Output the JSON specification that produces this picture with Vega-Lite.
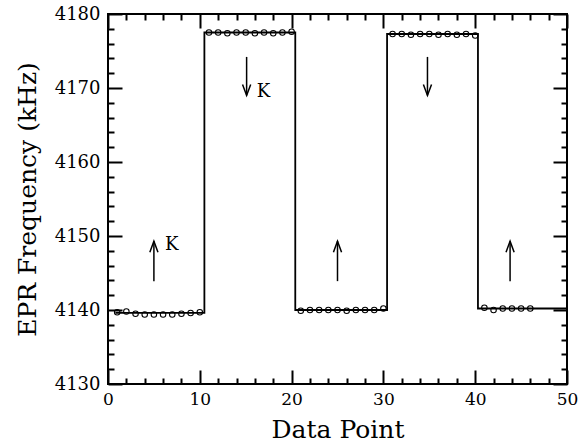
{
  "$schema": "https://vega.github.io/schema/vega-lite/v6.json",
  "width": 459,
  "height": 370,
  "autosize": {"type": "none"},
  "padding": {"left": 108, "top": 14, "right": 13, "bottom": 59},
  "background": "white",
  "config": {
    "view": {"stroke": "black", "strokeWidth": 2},
    "axis": {
      "domain": false,
      "tickColor": "black",
      "tickWidth": 2,
      "ticks": true,
      "grid": false,
      "labelFont": "DejaVu Serif",
      "labelColor": "black",
      "titleFont": "DejaVu Serif",
      "titleFontSize": 25,
      "titleFontWeight": "normal",
      "titleColor": "black"
    }
  },
  "datasets": {
    "fit": [
      {"order": 1, "x": 0.8, "y": 4139.6},
      {"order": 2, "x": 10.5, "y": 4139.6},
      {"order": 3, "x": 10.5, "y": 4177.5},
      {"order": 4, "x": 20.4, "y": 4177.5},
      {"order": 5, "x": 20.4, "y": 4140.0},
      {"order": 6, "x": 30.4, "y": 4140.0},
      {"order": 7, "x": 30.4, "y": 4177.3},
      {"order": 8, "x": 40.3, "y": 4177.3},
      {"order": 9, "x": 40.3, "y": 4140.2},
      {"order": 10, "x": 50, "y": 4140.2}
    ],
    "obs": [
      {"x": 1, "y": 4139.7}, {"x": 2, "y": 4139.8}, {"x": 3, "y": 4139.5}, {"x": 4, "y": 4139.4}, {"x": 5, "y": 4139.4},
      {"x": 6, "y": 4139.4}, {"x": 7, "y": 4139.4}, {"x": 8, "y": 4139.5}, {"x": 9, "y": 4139.6}, {"x": 10, "y": 4139.7},
      {"x": 11, "y": 4177.5}, {"x": 12, "y": 4177.5}, {"x": 13, "y": 4177.4}, {"x": 14, "y": 4177.5}, {"x": 15, "y": 4177.5},
      {"x": 16, "y": 4177.4}, {"x": 17, "y": 4177.5}, {"x": 18, "y": 4177.4}, {"x": 19, "y": 4177.5}, {"x": 20, "y": 4177.6},
      {"x": 21, "y": 4139.9}, {"x": 22, "y": 4140.0}, {"x": 23, "y": 4140.0}, {"x": 24, "y": 4140.0}, {"x": 25, "y": 4140.0},
      {"x": 26, "y": 4139.9}, {"x": 27, "y": 4140.0}, {"x": 28, "y": 4140.0}, {"x": 29, "y": 4140.0}, {"x": 30, "y": 4140.2},
      {"x": 31, "y": 4177.3}, {"x": 32, "y": 4177.3}, {"x": 33, "y": 4177.2}, {"x": 34, "y": 4177.3}, {"x": 35, "y": 4177.3},
      {"x": 36, "y": 4177.2}, {"x": 37, "y": 4177.3}, {"x": 38, "y": 4177.2}, {"x": 39, "y": 4177.3}, {"x": 40, "y": 4177.1},
      {"x": 41, "y": 4140.3}, {"x": 42, "y": 4140.0}, {"x": 43, "y": 4140.2}, {"x": 44, "y": 4140.2}, {"x": 45, "y": 4140.2},
      {"x": 46, "y": 4140.2}
    ],
    "arrows": [
      {"x": 5.0, "tail": 4143.9, "head": 4149.3, "dir": "up"},
      {"x": 15.1, "tail": 4174.2, "head": 4169.0, "dir": "down"},
      {"x": 25.0, "tail": 4143.9, "head": 4149.3, "dir": "up"},
      {"x": 34.8, "tail": 4174.2, "head": 4169.0, "dir": "down"},
      {"x": 43.8, "tail": 4143.9, "head": 4149.3, "dir": "up"}
    ],
    "labels": [
      {"x": 6.2, "y": 4148.8, "text": "K"},
      {"x": 16.2, "y": 4169.4, "text": "K"}
    ]
  },
  "layer": [
    {
      "data": {"name": "fit"},
      "mark": {"type": "line", "color": "black", "strokeWidth": 1.8},
      "encoding": {
        "x": {
          "field": "x", "type": "quantitative",
          "scale": {"domain": [0, 50], "nice": false, "zero": false},
          "axis": {
            "orient": "bottom",
            "title": "Data Point",
            "values": [0, 10, 20, 30, 40, 50],
            "offset": -14,
            "tickSize": 14,
            "labelFontSize": 17,
            "labelPadding": 7,
            "labelFlush": false,
            "labelOverlap": false,
            "titlePadding": 10
          }
        },
        "y": {
          "field": "y", "type": "quantitative",
          "scale": {"domain": [4130, 4180], "nice": false, "zero": false},
          "axis": {
            "orient": "left",
            "title": "EPR Frequency (kHz)",
            "values": [4130, 4140, 4150, 4160, 4170, 4180],
            "offset": -14,
            "tickSize": 14,
            "labelFontSize": 18,
            "labelPadding": 8,
            "labelFlush": false,
            "labelOverlap": false,
            "format": "d",
            "titlePadding": 14
          }
        },
        "order": {"field": "order", "type": "quantitative"}
      }
    },
    {
      "data": {"name": "obs"},
      "mark": {"type": "point", "shape": "circle", "filled": false, "color": "black", "strokeWidth": 1.1, "size": 30, "opacity": 1},
      "encoding": {
        "x": {
          "field": "x", "type": "quantitative",
          "axis": {
            "orient": "bottom", "title": null,
            "values": [2,4,6,8,12,14,16,18,22,24,26,28,32,34,36,38,42,44,46,48],
            "offset": -6, "tickSize": 6, "labels": false
          }
        },
        "y": {
          "field": "y", "type": "quantitative",
          "axis": {
            "orient": "left", "title": null,
            "values": [4132,4134,4136,4138,4142,4144,4146,4148,4152,4154,4156,4158,4162,4164,4166,4168,4172,4174,4176,4178],
            "offset": -6, "tickSize": 6, "labels": false
          }
        }
      }
    },
    {
      "data": {"name": "arrows"},
      "mark": {"type": "rule", "color": "black", "strokeWidth": 1.5},
      "encoding": {
        "x": {
          "field": "x", "type": "quantitative",
          "axis": {"orient": "top", "title": null, "values": [0, 10, 20, 30, 40, 50], "offset": -14, "tickSize": 14, "labels": false}
        },
        "y": {
          "field": "tail", "type": "quantitative",
          "axis": {"orient": "right", "title": null, "values": [4130, 4140, 4150, 4160, 4170, 4180], "offset": -14, "tickSize": 14, "labels": false}
        },
        "y2": {"field": "head"}
      }
    },
    {
      "data": {"name": "arrows"},
      "mark": {"type": "point", "filled": false, "color": "black", "strokeWidth": 1.5, "size": 484, "opacity": 1},
      "encoding": {
        "x": {
          "field": "x", "type": "quantitative",
          "axis": {"orient": "top", "title": null, "values": [2,4,6,8,12,14,16,18,22,24,26,28,32,34,36,38,42,44,46,48], "offset": -6, "tickSize": 6, "labels": false}
        },
        "y": {
          "field": "head", "type": "quantitative",
          "axis": {"orient": "right", "title": null, "values": [4132,4134,4136,4138,4142,4144,4146,4148,4152,4154,4156,4158,4162,4164,4166,4168,4172,4174,4176,4178], "offset": -6, "tickSize": 6, "labels": false}
        },
        "shape": {
          "field": "dir", "type": "nominal", "legend": null,
          "scale": {"domain": ["up", "down"], "range": ["M-0.37,1L0,0L0.37,1", "M-0.37,-1L0,0L0.37,-1"]}
        }
      }
    },
    {
      "data": {"name": "labels"},
      "mark": {"type": "text", "font": "DejaVu Serif", "fontSize": 18, "color": "black", "align": "left", "baseline": "middle"},
      "encoding": {
        "x": {"field": "x", "type": "quantitative", "axis": null},
        "y": {"field": "y", "type": "quantitative", "axis": null},
        "text": {"field": "text"}
      }
    }
  ],
  "resolve": {
    "scale": {"x": "shared", "y": "shared"},
    "axis": {"x": "independent", "y": "independent"}
  }
}
